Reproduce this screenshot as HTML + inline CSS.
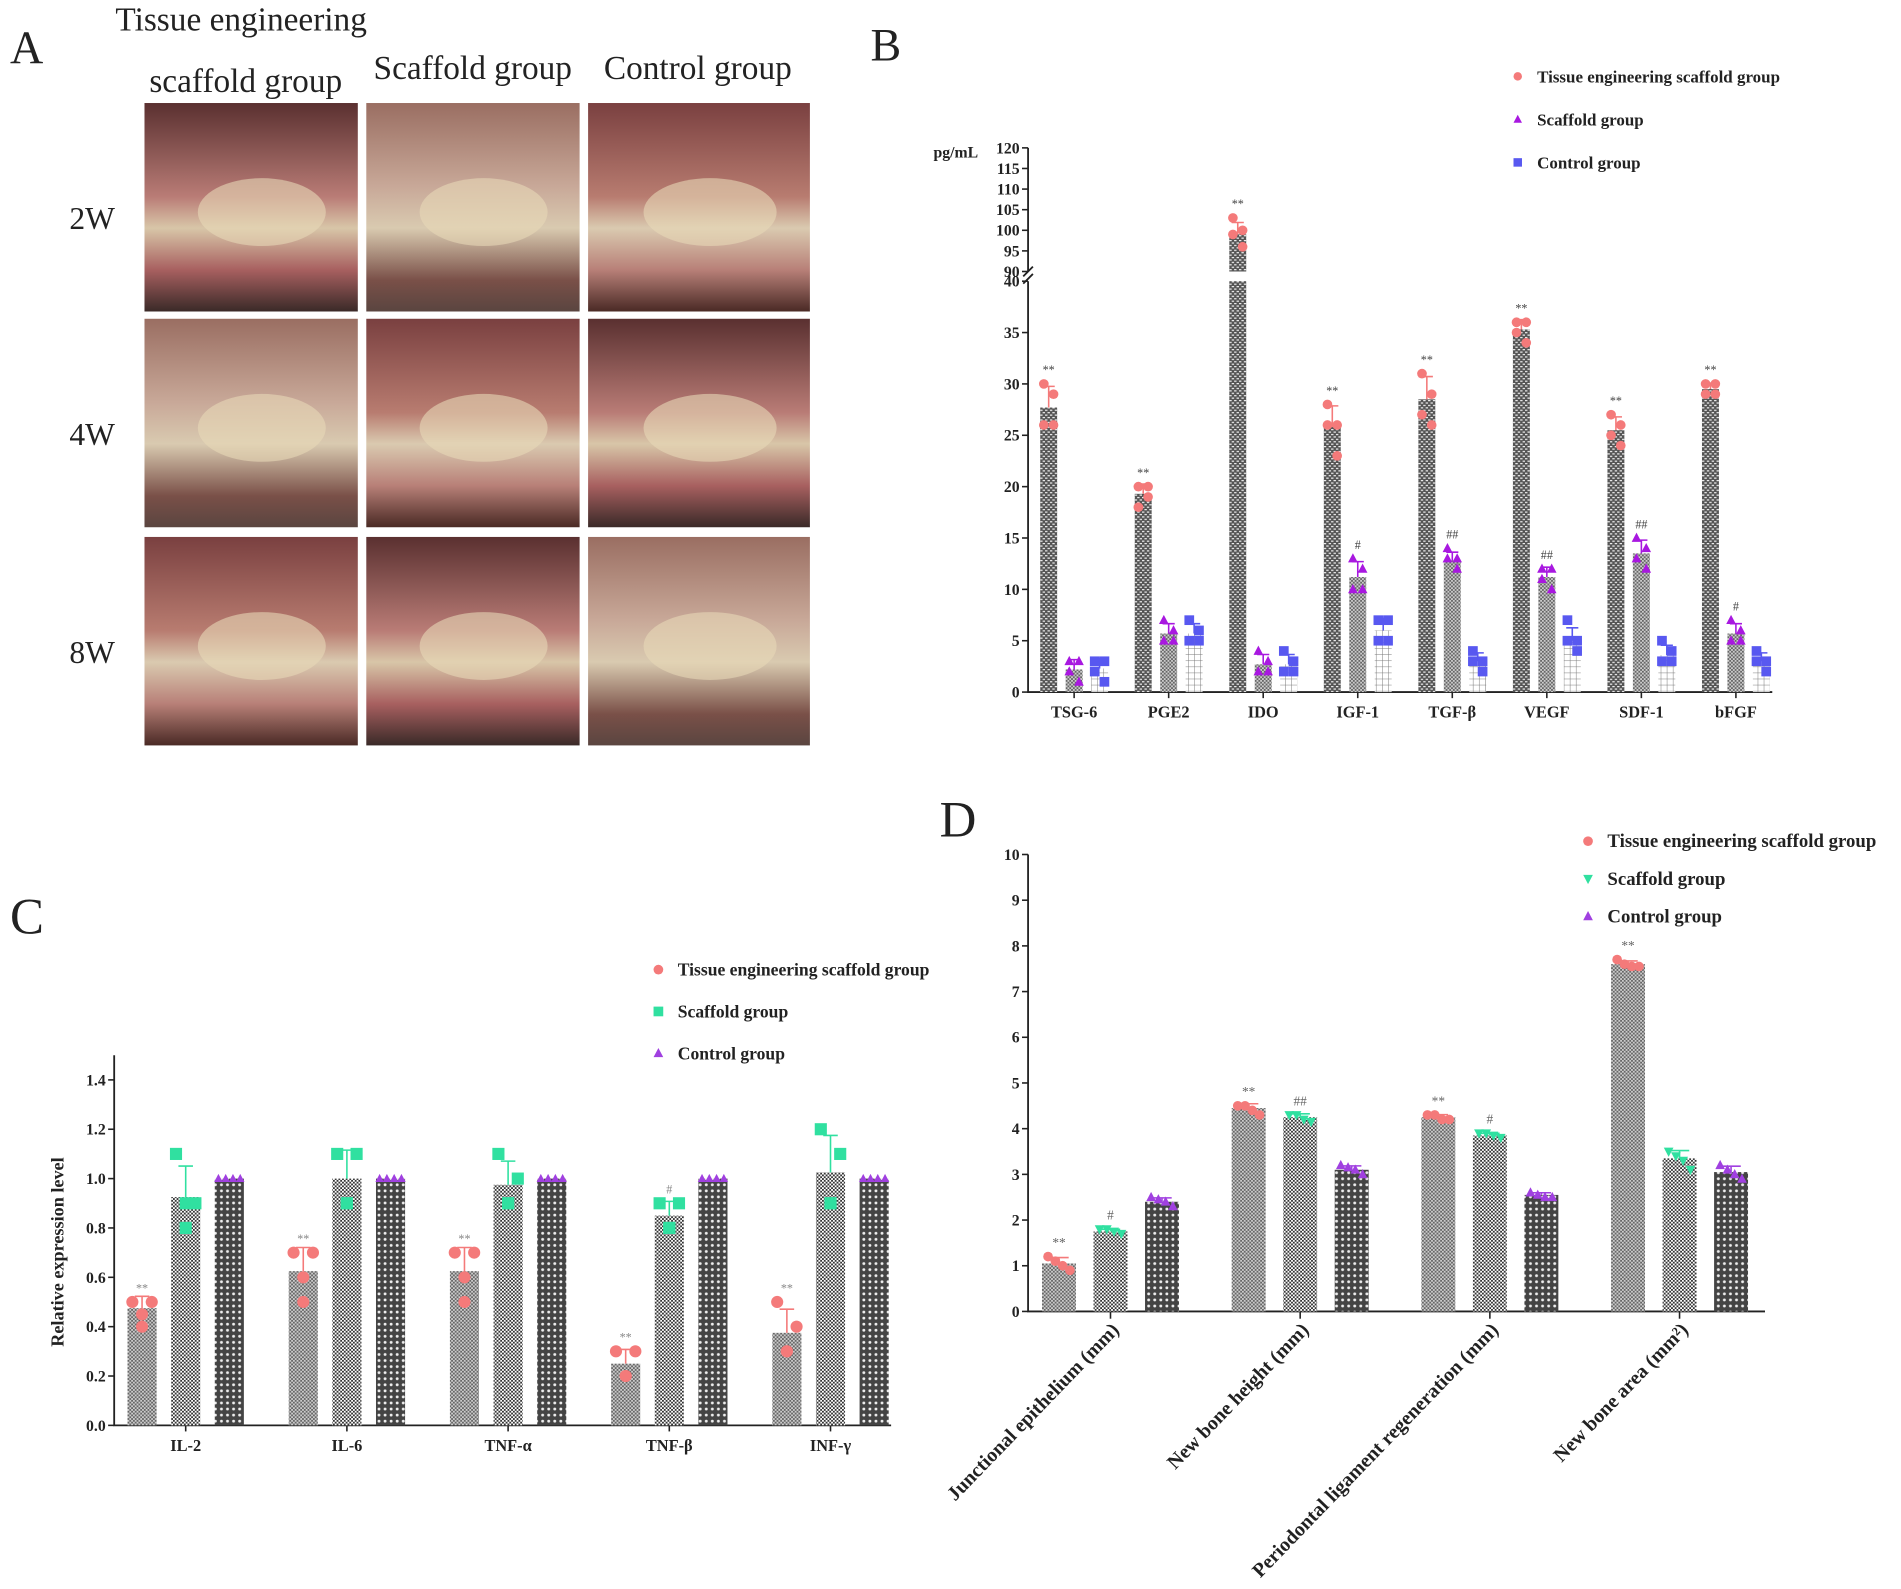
<!DOCTYPE html>
<html><head><meta charset="utf-8"><style>
html,body{margin:0;padding:0;background:#fff;}
svg{display:block;font-family:"Liberation Serif",serif;}
</style></head><body>
<svg id="fig" width="1901" height="1589" viewBox="0 0 1568 1311" xmlns="http://www.w3.org/2000/svg">
<defs>
<pattern id="pA" width="3" height="3" patternUnits="userSpaceOnUse"><rect width="3" height="3" fill="#fff"/><rect width="1.5" height="1.5" fill="#333"/><rect x="1.5" y="1.5" width="1.5" height="1.5" fill="#333"/></pattern>
<pattern id="pB" width="4" height="4" patternUnits="userSpaceOnUse"><rect width="4" height="4" fill="#555"/><rect width="2" height="1" fill="#eee"/><rect x="2" y="2" width="2" height="1" fill="#eee"/></pattern>
<pattern id="pC" width="5" height="5" patternUnits="userSpaceOnUse"><rect width="5" height="5" fill="#fff"/><path d="M0 0H5M0 0V5" stroke="#777" stroke-width="0.8"/></pattern>
<pattern id="pD" width="3" height="3" patternUnits="userSpaceOnUse"><rect width="3" height="3" fill="#ccc"/><rect width="1.5" height="1.5" fill="#666"/><rect x="1.5" y="1.5" width="1.5" height="1.5" fill="#666"/></pattern>
<pattern id="pE" width="4" height="4" patternUnits="userSpaceOnUse"><rect width="4" height="4" fill="#444"/><circle cx="2" cy="2" r="1" fill="#ddd"/></pattern>
<pattern id="pF" width="5" height="5" patternUnits="userSpaceOnUse"><rect width="5" height="5" fill="#444"/><circle cx="2.5" cy="2.5" r="1.2" fill="#eee"/></pattern>
<linearGradient id="g1" x1="0" y1="0" x2="0" y2="1"><stop offset="0" stop-color="#5a3030"/><stop offset="0.45" stop-color="#b97c76"/><stop offset="0.6" stop-color="#d8c6a8"/><stop offset="0.8" stop-color="#a86060"/><stop offset="1" stop-color="#3a2a28"/></linearGradient>
<linearGradient id="g2" x1="0" y1="0" x2="0" y2="1"><stop offset="0" stop-color="#9a6e62"/><stop offset="0.4" stop-color="#c8a898"/><stop offset="0.6" stop-color="#d9cab0"/><stop offset="0.85" stop-color="#7a5048"/><stop offset="1" stop-color="#5a4540"/></linearGradient>
<linearGradient id="g3" x1="0" y1="0" x2="0" y2="1"><stop offset="0" stop-color="#7a4040"/><stop offset="0.45" stop-color="#b87c70"/><stop offset="0.6" stop-color="#dacab0"/><stop offset="0.8" stop-color="#b88078"/><stop offset="1" stop-color="#4a2a25"/></linearGradient>
</defs>
<g id="panelA"></g>
<g id="panelB"></g>
<g id="panelC"></g>
<g id="panelD"></g>
</svg>
<script>
// ---------- Panel B data ----------
const bCategories = ["TSG-6","PGE2","IDO","IGF-1","TGF-β","VEGF","SDF-1","bFGF"];
const bTE = [27.7,19.3,99,25.8,28.5,35.3,25.5,29.5];
const bScaffold = [2.2,5.7,2.7,11.2,12.8,11.2,13.5,5.7];
const bControl = [2.3,5.7,2.7,6,3,5,3.6,3];
const bTEpts = [[30,29,26,26],[20,20,18,19],[103,100,99,96],[28,26,26,23],[31,29,27,26],[36,36,35,34],[27,26,25,24],[30,30,29,29]];
const bScafPts = [[3,3,2,1],[7,6,5,5],[4,3,2,2],[13,12,10,10],[14,13,13,12],[12,12,11,10],[15,14,13,12],[7,6,5,5]];
const bCtrlPts = [[3,3,2,1],[7,6,5,5],[4,3,2,2],[7,7,5,5],[4,3,3,2],[7,5,5,4],[5,4,3,3],[4,3,3,2]];
const bTEmarks = ["**","**","**","**","**","**","**","**"];
const bScafMarks = ["","","","#","##","##","##","#"];
const bTicksLow = [0,5,10,15,20,25,30,35,40];
const bTicksHigh = [90,95,100,105,110,115,120];
// ---------- Panel C data ----------
const cCategories = ["IL-2","IL-6","TNF-α","TNF-β","INF-γ"];
const cTE = [0.475,0.625,0.625,0.25,0.375];
const cScaffold = [0.925,1.0,0.975,0.85,1.025];
const cControl = [1,1,1,1,1];
const cTEpts = [[0.5,0.5,0.45,0.4],[0.7,0.7,0.6,0.5],[0.7,0.7,0.6,0.5],[0.3,0.3,0.2,0.2],[0.5,0.4,0.3,0.3]];
const cScafPts = [[1.1,0.9,0.9,0.8],[1.1,1.1,0.9,0.9],[1.1,1.0,0.9,0.9],[0.9,0.9,0.8,0.8],[1.2,1.1,0.9,0.9]];
const cCtrlPts = [[1,1,1,1],[1,1,1,1],[1,1,1,1],[1,1,1,1],[1,1,1,1]];
const cTEmarks = ["**","**","**","**","**"];
const cScafMarks = ["","","","#",""];
const cTicks = [0.0,0.2,0.4,0.6,0.8,1.0,1.2,1.4];
// ---------- Panel D data ----------
const dCategories = ["Junctional epithelium (mm)","New bone height (mm)","Periodontal ligament regeneration (mm)","New bone area (mm²)"];
const dTE = [1.05,4.45,4.25,7.6];
const dScaffold = [1.75,4.25,3.85,3.35];
const dControl = [2.4,3.1,2.55,3.05];
const dTEpts = [[1.2,1.1,1.0,0.9],[4.5,4.5,4.4,4.3],[4.3,4.3,4.2,4.2],[7.7,7.6,7.55,7.55]];
const dScafPts = [[1.8,1.8,1.75,1.7],[4.3,4.3,4.2,4.15],[3.9,3.9,3.85,3.8],[3.5,3.4,3.3,3.1]];
const dCtrlPts = [[2.5,2.45,2.4,2.3],[3.2,3.15,3.1,3.0],[2.6,2.55,2.5,2.5],[3.2,3.1,3.0,2.9]];
const dTEmarks = ["**","**","**","**"];
const dScafMarks = ["#","##","#",""];
const dTicks = [0,1,2,3,4,5,6,7,8,9,10];

const NS="http://www.w3.org/2000/svg";
function mk(parent,tag,attrs,text){const e=document.createElementNS(NS,tag);for(const k in attrs)e.setAttribute(k,attrs[k]);if(text!==undefined)e.textContent=text;parent.appendChild(e);return e;}
function sd(a){const m=a.reduce((s,v)=>s+v,0)/a.length;return Math.sqrt(a.reduce((s,v)=>s+(v-m)*(v-m),0)/(a.length-1));}
function marker(g,shape,x,y,color,s){
  let e;
  if(shape==="circle"){e=mk(g,"circle",{cx:x,cy:y,r:s,fill:color});}
  else if(shape==="square"){e=mk(g,"rect",{x:x-s,y:y-s,width:2*s,height:2*s,fill:color});}
  else if(shape==="tri"){e=mk(g,"polygon",{points:`${x},${y-s*1.1} ${x-s},${y+s*0.8} ${x+s},${y+s*0.8}`,fill:color});}
  else {e=mk(g,"polygon",{points:`${x},${y+s*1.1} ${x-s},${y-s*0.8} ${x+s},${y-s*0.8}`,fill:color});}
  return e;
}
const jit=[-4,4,-4,4];

// ---------- Panel A ----------
(function(){
  const g=document.getElementById("panelA");
  let t=mk(g,"text",{x:8,y:52,"font-size":38,fill:"#222"},"A");
  
  const hdr=[[95,25,"Tissue engineering"],[123,76,"scaffold group"],[308,65,"Scaffold group"],[498,65,"Control group"]];
  hdr.forEach(h=>{const e=mk(g,"text",{x:h[0],y:h[1],"font-size":27.5,fill:"#222"},h[2]);
    });
  const rows=[["2W",85],["4W",263],["8W",443]];
  const cols=[119,302,485];const grads=["url(#g1)","url(#g2)","url(#g3)"];
  rows.forEach((r,ri)=>{
    const e=mk(g,"text",{x:57,y:r[1]+104,"font-size":26,fill:"#222"},r[0]);
    
    cols.forEach((c,ci)=>{
      const w=ci===2?183:176;
      const p=mk(g,"rect",{x:c,y:r[1],width:w,height:172,fill:grads[(ri+ci)%3]});
      
      mk(g,"ellipse",{cx:c+w*0.55,cy:r[1]+90,rx:w*0.3,ry:28,fill:"#e8d8b8",opacity:0.6});
    });
  });
})();

function legend(g,items,x,y0,dy,fs,size){
  items.forEach((it,i)=>{
    const y=y0+i*dy;
    const m=marker(g,it[1],x,y,it[2],size);
    
    const t=mk(g,"text",{x:x+16,y:y+5,"font-size":fs,"font-weight":"bold",fill:"#222"},it[0]);
    
  });
}
function drawPoints(g,pts,cx,yf,shape,color,s){
  pts.forEach((v,i)=>{const m=marker(g,shape,cx+jit[i],yf(v),color,s);
    });
}
function errBar(g,cx,mean,pts,yf,color,hw){
  const s=sd(pts);if(s===0)return;
  const y1=yf(mean+s),y0=yf(mean);
  const e=mk(g,"path",{d:`M${cx} ${y0}V${y1}M${cx-hw} ${y1}H${cx+hw}`,stroke:color,"stroke-width":1.3,fill:"none"});
  
}

// ---------- Panel B ----------
(function(){
  const g=document.getElementById("panelB");
  const X0=848,X1=1462,Y0=571;
  const y=v=>v<=40?Y0-v*8.475:224-(v-90)*3.4;
  const cx=i=>886+i*78;
  let t=mk(g,"text",{x:718,y:50,"font-size":38,fill:"#222"},"B");
  
  t=mk(g,"text",{x:770,y:130,"font-size":13,"font-weight":"bold",fill:"#222"},"pg/mL");
  
  const ax=mk(g,"path",{d:`M${X0} ${y(120)}V${y(90)}M${X0} ${y(40)}V${Y0}H${X1}`,stroke:"#222","stroke-width":1.5,fill:"none"});
  
  mk(g,"path",{d:`M${X0-4} ${y(90)+4}l8 -8M${X0-4} ${y(40)+2}l8 -8`,stroke:"#222","stroke-width":1.5});
  bTicksLow.concat(bTicksHigh).forEach(v=>{
    mk(g,"line",{x1:X0-5,x2:X0,y1:y(v),y2:y(v),stroke:"#222","stroke-width":1.3});
    const e=mk(g,"text",{x:X0-7,y:y(v)+4.5,"font-size":13,"font-weight":"bold","text-anchor":"end",fill:"#222"},v);
    
  });
  const fills=["url(#pB)","url(#pD)","url(#pC)"];
  const series=[[bTE,bTEpts,"circle","#f47a7a",bTEmarks],[bScaffold,bScafPts,"tri","#a818e0",bScafMarks],[bControl,bCtrlPts,"square","#5858f0",null]];
  bCategories.forEach((c,i)=>{
    mk(g,"line",{x1:cx(i),x2:cx(i),y1:Y0,y2:Y0+5,stroke:"#222","stroke-width":1.3});
    const e=mk(g,"text",{x:cx(i),y:Y0+21,"font-size":13.5,"font-weight":"bold","text-anchor":"middle",fill:"#222"},c);
    
    series.forEach((s,k)=>{
      const bx=cx(i)+(k-1)*21, v=s[0][i];
      if(v>40){
        let b=mk(g,"rect",{x:bx-7,y:y(40),width:14,height:Y0-y(40),fill:fills[k]});
        
        b=mk(g,"rect",{x:bx-7,y:y(v),width:14,height:y(90)-y(v),fill:fills[k]});
        
      } else {
        const b=mk(g,"rect",{x:bx-7,y:y(v),width:14,height:Y0-y(v),fill:fills[k]});
        
      }
      errBar(g,bx,v,s[1][i],y,s[3],5);
      drawPoints(g,s[1][i],bx,y,s[2],s[3],4);
      if(s[4]&&s[4][i]){const top=Math.max(...s[1][i]);
        const a=mk(g,"text",{x:bx,y:y(top)-8,"font-size":10,"text-anchor":"middle",fill:"#444"},s[4][i]);
        }
    });
  });
  legend(g,[["Tissue engineering scaffold group","circle","#f47a7a"],["Scaffold group","tri","#a818e0"],["Control group","square","#5858f0"]],1252,63,35.5,14,3.5);
})();

// ---------- Panel C ----------
(function(){
  const g=document.getElementById("panelC");
  const X0=94,X1=735,Y0=1176;
  const y=v=>Y0-v*203.6;
  const cx=i=>153+i*133;
  let t=mk(g,"text",{x:8,y:770,"font-size":42,fill:"#222"},"C");
  
  const ax=mk(g,"path",{d:`M${X0} ${y(1.5)}V${Y0}H${X1}`,stroke:"#222","stroke-width":1.5,fill:"none"});
  
  cTicks.forEach(v=>{
    mk(g,"line",{x1:X0-5,x2:X0,y1:y(v),y2:y(v),stroke:"#222","stroke-width":1.3});
    const e=mk(g,"text",{x:X0-7,y:y(v)+4.5,"font-size":13,"font-weight":"bold","text-anchor":"end",fill:"#222"},v.toFixed(1));
    
  });
  t=mk(g,"text",{x:0,y:0,"font-size":15,"font-weight":"bold","text-anchor":"middle",fill:"#222",transform:"translate(52,1033) rotate(-90)"},"Relative expression level");
  
  const fills=["url(#pD)","url(#pA)","url(#pF)"];
  const series=[[cTE,cTEpts,"circle","#f47a7a",cTEmarks],[cScaffold,cScafPts,"square","#30e0a0",cScafMarks],[cControl,cCtrlPts,"tri","#a040e0",null]];
  cCategories.forEach((c,i)=>{
    mk(g,"line",{x1:cx(i),x2:cx(i),y1:Y0,y2:Y0+5,stroke:"#222","stroke-width":1.3});
    const e=mk(g,"text",{x:cx(i),y:Y0+21,"font-size":13.5,"font-weight":"bold","text-anchor":"middle",fill:"#222"},c);
    
    series.forEach((s,k)=>{
      const bx=cx(i)+(k-1)*36, v=s[0][i];
      const b=mk(g,"rect",{x:bx-12,y:y(v),width:24,height:Y0-y(v),fill:fills[k]});
      
      errBar(g,bx,v,s[1][i],y,s[3],6);
      const off=k===2?[-9,-3,3,9]:[-8,8,0,0];
      s[1][i].forEach((p,j)=>{const m=marker(g,s[2],bx+off[j],y(p),s[3],k===2?3.5:5);
        });
      if(s[4]&&s[4][i]){const top=Math.max(...s[1][i]);
        const a=mk(g,"text",{x:bx,y:y(top)-8,"font-size":10,"text-anchor":"middle",fill:"#888"},s[4][i]);
        }
    });
  });
  legend(g,[["Tissue engineering scaffold group","circle","#f47a7a"],["Scaffold group","square","#30e0a0"],["Control group","tri","#a040e0"]],543,800,34.5,14.5,4);
})();

// ---------- Panel D ----------
(function(){
  const g=document.getElementById("panelD");
  const X0=848,X1=1456,Y0=1082;
  const y=v=>Y0-v*37.7;
  const cx=i=>916+i*156.5;
  let t=mk(g,"text",{x:775,y:690,"font-size":42,fill:"#222"},"D");
  
  const ax=mk(g,"path",{d:`M${X0} ${y(10)}V${Y0}H${X1}`,stroke:"#222","stroke-width":1.5,fill:"none"});
  
  dTicks.forEach(v=>{
    mk(g,"line",{x1:X0-5,x2:X0,y1:y(v),y2:y(v),stroke:"#222","stroke-width":1.3});
    const e=mk(g,"text",{x:X0-7,y:y(v)+4.5,"font-size":13,"font-weight":"bold","text-anchor":"end",fill:"#222"},v);
    
  });
  const fills=["url(#pD)","url(#pA)","url(#pF)"];
  const series=[[dTE,dTEpts,"circle","#f47a7a",dTEmarks],[dScaffold,dScafPts,"tridown","#30e0a0",dScafMarks],[dControl,dCtrlPts,"tri","#a040e0",null]];
  dCategories.forEach((c,i)=>{
    mk(g,"line",{x1:cx(i),x2:cx(i),y1:Y0,y2:Y0+6,stroke:"#222","stroke-width":1.3});
    const e=mk(g,"text",{x:0,y:0,"font-size":16.5,"font-weight":"bold","text-anchor":"end",fill:"#222",transform:`translate(${cx(i)+8},${Y0+16}) rotate(-46)`},c);
    
    series.forEach((s,k)=>{
      const bx=cx(i)+(k-1)*42.5, v=s[0][i];
      const b=mk(g,"rect",{x:bx-14,y:y(v),width:28,height:Y0-y(v),fill:fills[k]});
      
      errBar(g,bx,v,s[1][i],y,s[3],8);
      const off=[-9,-3,3,9];
      s[1][i].forEach((p,j)=>{const m=marker(g,s[2],bx+off[j],y(p),s[3],4);
        });
      if(s[4]&&s[4][i]){const top=Math.max(...s[1][i]);
        const a=mk(g,"text",{x:bx,y:y(top)-8,"font-size":11,"text-anchor":"middle",fill:"#666"},s[4][i]);
        }
    });
  });
  legend(g,[["Tissue engineering scaffold group","circle","#f47a7a"],["Scaffold group","tridown","#30e0a0"],["Control group","tri","#a040e0"]],1310,694,31,15.5,4);
})();
</script>
</body></html>
